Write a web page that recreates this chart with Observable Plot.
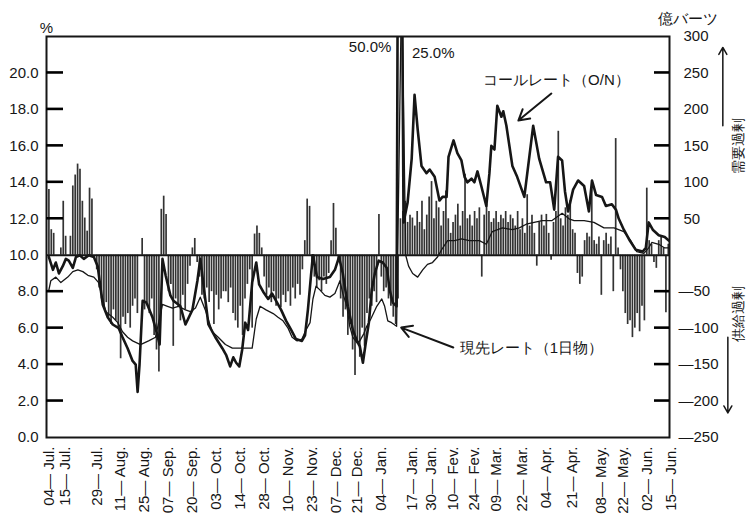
<!DOCTYPE html>
<html><head><meta charset="utf-8">
<script src="https://cdn.jsdelivr.net/npm/d3@7"></script>
<script src="https://cdn.jsdelivr.net/npm/@observablehq/plot@0.6"></script>
<style>
body{margin:0;background:#fff;}
#chart{width:747px;height:516px;}
</style></head><body><div id="chart"></div>
<script>
// business-day index of each labelled date
const tickDays = [0, 7, 20, 30, 40, 50, 60, 70, 80, 90, 100, 110, 120, 129, 139, 152, 160, 169, 178, 187, 198, 208, 219, 231, 240, 250, 260];
const tickLabels = ["04— Jul.", "15— Jul.", "29— Jul.", "11— Aug.", "25— Aug.", "07— Sep.", "20— Sep.", "03— Oct.", "14— Oct.", "28— Oct.", "10— Nov.", "23— Nov.", "07— Dec.", "21— Dec.", "04— Jan.", "17— Jan.", "30— Jan.", "10— Fev.", "24— Fev.", "09— Mar.", "22— Mar.", "04— Apr.", "21— Apr.", "08— May.", "22— May.", "02— Jun.", "15— Jun."];

// daily excess demand (+) / supply (-) of funds, 億バーツ, one value per business day
const fundBalance = [
  90, 35, 30, 0, 0, 10, 74, 26, 0, 26,
  95, 110, 125, 118, 74, 51, 33, 92, 77, 0,
  -20, -45, -60, -70, -65, -85, -95, -75, -90, -100,
  -142, -85, -95, -80, -100, -70, -60, -80, 0, 23,
  -75, -65, -80, -60, -110, -130, -160, 63, 81, 56,
  -50, -40, -125, -60, -70, -90, -55, -75, -40, -15,
  10, 23, -10, -30, -55, -60, -45, -65, -50, -95,
  -55, -75, -60, -50, -50, -65, -45, -80, -90, -100,
  -70, -110, -60, -40, -20, -100, 29, 40, 30, 10,
  -30, -55, -45, -65, -50, -70, -60, -72, -55, -65,
  -50, -70, -45, -60, -40, -55, -20, 20, 77, 67,
  -10, -30, -45, -35, -50, -30, -40, -25, 20, 71,
  37, -10, -60, -85, -75, -110, -95, -130, -165, -120,
  -140, -100, -125, -80, -60, -70, -50, -65, 56, -30,
  -50, -45, -60, -70, -85, -95, -60, 50, 60, 74,
  45, 55, 51, 40, 60, 45, 74, 35, 55, 80,
  101, 50, 74, 65, 40, 60, 88, 50, 30, 45,
  55, 70, 40, 60, 111, 50, 55, 40, 60, 50,
  65, -30, 55, 70, 60, 45, 50, 60, 45, 55,
  50, 60, 45, 55, 50, 40, 60, 35, 50, 30,
  83, 40, 55, 30, -15, 45, 55, 40, 56, 30,
  -7, 45, 60, 170, 50, 40, 65, 55, 75, 35,
  30, -25, -40, -30, 20, 30, 25, 92, 20, 15,
  25, -55, 20, 30, 15, 25, -50, 160, 10, -20,
  -50, -80, -95, -90, -113, -100, -80, -105, -70, -90,
  92, 20, 15, -10, -18, 20, 25, 10, -79, 15
];

// call rate (O/N), % : [business-day index, rate]
const callRate = [
  [0,9.9],[1.7,9.2],[2.9,9.6],[4.2,9.0],[5.8,9.4],[7.1,9.8],[8.3,9.7],[10,9.3],[11.3,9.9],[12.9,10.0],
  [14.6,9.8],[16.7,10.0],[18.8,9.9],[20.4,9.4],[22.5,7.3],[24.6,6.6],[26.7,6.2],[29.2,6.0],[30.8,5.5],[32.9,4.9],
  [35,4.2],[36.3,4.0],[37.1,2.5],[37.9,4.0],[39.2,7.5],[40.8,7.4],[43.3,6.6],[45.4,5.6],[46.3,5.1],[47.5,9.8],
  [48.8,8.9],[50.8,7.8],[52.1,7.5],[55,7.2],[57.1,6.2],[60,7.0],[62.1,8.6],[63.3,9.8],[65,8.0],[66.7,6.2],
  [69.6,5.5],[72.5,4.9],[74.2,4.5],[75.8,3.9],[77.1,4.4],[78.3,4.1],[79.6,3.9],[80.8,4.8],[82.1,6.3],[83.3,5.9],
  [85,8.5],[86.7,9.6],[87.9,8.4],[89.6,8.0],[91.7,7.6],[93.3,7.9],[95,7.5],[97.1,7.0],[99.2,6.4],[101.3,5.9],
  [103.3,5.4],[105.8,5.3],[107.1,5.6],[108.3,7.0],[109.6,8.9],[110.4,10.0],[112.1,8.8],[114.6,8.7],[117.5,8.8],[119.6,9.2],
  [121.3,9.9],[122.9,9.0],[125,7.2],[127.1,5.9],[128.8,5.3],[130,5.0],[131.3,4.1],[132.5,5.2],[133.8,6.3],[135,8.1],
  [136.3,9.0],[137.9,9.7],[139.6,9.6],[141.3,9.3],[142.5,8.1],[143.8,7.4],[145.4,7.2],[146.5,50],[148.3,11.8],[150,12.9],
  [151.7,15.3],[152.9,18.8],[154.2,16.9],[155.8,14.9],[157.9,14.5],[159.2,14.7],[161.3,14.3],[163.3,13.0],[164.6,13.2],[166.3,13.2],
  [167.1,15.4],[169.2,16.3],[170.8,15.6],[172.5,15.2],[173.8,14.3],[175,14.0],[176.7,14.2],[177.9,14.0],[179.2,14.6],[180.8,13.8],
  [182.9,12.7],[184.2,14.5],[185,16.0],[186.3,15.8],[187.5,18.2],[189.2,17.6],[190,17.9],[191.3,17.1],[193.8,14.9],[195.8,14.3],
  [198.8,13.2],[202.5,17.1],[205,15.3],[207.9,14.0],[209.6,14.0],[211.3,12.5],[212.9,15.4],[214.6,15.2],[215.8,13.5],[217.1,12.4],
  [219.2,13.6],[221.3,14.1],[223.8,13.8],[225.8,12.4],[227.1,14.1],[228.8,13.3],[231.3,13.2],[232.9,12.7],[235.4,12.8],[237.1,12.5],
  [238.3,12.0],[240.4,11.4],[242.9,10.8],[245.4,10.3],[248.3,10.2],[249.6,10.4],[250.8,11.8],[252.5,11.4],[255,11.1],[257.5,11.0],
  [259.2,10.8]
];

// repo rate (1 day), % : [business-day index, rate]
const repoRate = [
  [0,8.1],[0.8,8.6],[2.9,8.8],[5,8.5],[7.9,8.8],[10,9.1],[12.1,9.2],[14.2,9.1],[16.3,8.9],[18.8,8.8],
  [20.8,8.5],[23.8,6.9],[26.7,6.6],[28.8,6.3],[30.8,5.8],[32.9,5.5],[35,5.3],[38.3,5.1],[41.7,5.3],[44.6,5.5],
  [47.5,7.3],[49.6,7.2],[51.7,7.1],[54.2,7.2],[57.1,7.0],[59.2,6.9],[61.3,7.1],[63.3,7.7],[65.4,7.0],[68.3,5.8],
  [70.8,5.5],[73.8,5.1],[76.7,4.9],[79.2,4.9],[82.1,4.9],[85,4.9],[86.7,6.5],[88.3,7.2],[90.8,7.0],[93.8,6.8],
  [95.8,6.6],[97.9,6.4],[100,6.0],[101.7,5.5],[103.8,5.3],[105.8,5.4],[107.5,5.9],[109.2,6.3],[110.4,7.6],[111.7,8.3],
  [113.3,8.1],[115.4,7.8],[117.5,7.7],[119.6,7.9],[121.7,8.6],[122.9,7.9],[124.6,7.2],[125.8,6.1],[127.1,5.5],[128.8,5.2],
  [130,5.3],[131.7,5.7],[132.9,6.1],[134.6,6.5],[137.1,7.2],[139.2,7.6],[140.4,7.2],[141.7,6.4],[143.3,6.3],[145.4,6.1],
  [147.5,25],[149.2,10.0],[150.4,9.4],[152.1,9.0],[154.2,8.8],[156.3,9.2],[158.3,9.5],[160.4,9.6],[162.5,9.9],[164.2,10.3],
  [166.7,10.8],[169.6,10.8],[172.5,10.9],[175.8,10.8],[180,10.8],[182.9,10.6],[185.4,11.3],[189.6,11.5],[193.8,11.4],[196.7,11.5],
  [199.6,11.7],[202.9,11.8],[206.3,11.9],[210.4,11.9],[214.6,12.3],[217.5,12.0],[219.6,11.9],[223.8,11.9],[227.9,11.8],[232.1,11.5],
  [236.3,11.5],[240.4,11.3],[243.3,10.8],[245.8,10.2],[248.8,10.1],[250.8,10.4],[252.1,10.7],[255,10.6],[257.5,10.4],[259.2,10.4]
];

const leftTicks = [0, 2, 4, 6, 8, 10, 12, 14, 16, 18, 20];
const rightTicks = [300, 250, 200, 150, 100, 50, -50, -100, -150, -200, -250];

// annotations (text, x index, y %)
const notes = [
  {text: "50.0%", x: 134.3, y: 21.4},
  {text: "25.0%", x: 160.7, y: 21.1},
  {text: "コールレート（O/N）", x: 212.2, y: 19.6},
  {text: "現先レート（1日物）", x: 201.8, y: 4.9}
];
const pointers = [
  {x1: 210.1, y1: 18.87, x2: 196.3, y2: 17.39},
  {x1: 169.1, y1: 4.94, x2: 147.3, y2: 6.03}
];
const sideArrows = [
  {x1: 281.8, y1: 17.1, x2: 281.8, y2: 21.4},
  {x1: 283.9, y1: 5.5, x2: 283.9, y2: 1.35}
];
const sideLabels = [
  {text: "需要過剰", x: 288.5, y: 16.0},
  {text: "供給過剰", x: 288.5, y: 6.8}
];

const xDomain = [-1, 259.5];
const toPct = v => 10 + v / 25;           // 億バーツ -> position on the % scale (0 at 10%)
const bars = fundBalance.map((v, i) => ({i, v}));
const tickLabelOf = new Map(tickDays.map((d, k) => [d, tickLabels[k]]));
const ink = "#161616";
const font = "'Liberation Sans', Arial, sans-serif";
const W = 747, ML = 46, MR = 78;

const chart = Plot.plot({
  width: W, height: 516,
  marginTop: 36, marginBottom: 79, marginLeft: ML, marginRight: MR,
  style: {fontFamily: font, fontSize: "15px", color: ink, background: "#fff", overflow: "visible"},
  x: {domain: xDomain, axis: null},
  y: {domain: [0, 22], axis: null},
  marks: [
    Plot.ruleX(bars, {x: "i", y1: 10, y2: d => toPct(d.v), stroke: "#333", strokeWidth: 1.7}),
    Plot.ruleY([10], {stroke: ink, strokeWidth: 2}),
    Plot.line(repoRate, {x: d => d[0], y: d => d[1], stroke: ink, strokeWidth: 1.3, clip: true}),
    Plot.line(callRate, {x: d => d[0], y: d => d[1], stroke: ink, strokeWidth: 2.6, clip: true}),
    Plot.frame({stroke: ink, strokeWidth: 2}),
    Plot.axisY({anchor: "left", ticks: leftTicks, tickSize: 0, tickPadding: 8, tickFormat: d => d.toFixed(1), fontSize: 15, label: null}),
    Plot.axisY({anchor: "right", ticks: rightTicks.filter(v => v > 0).map(toPct), tickSize: 0, tickPadding: 14, tickFormat: d => String(Math.round((d - 10) * 25)), fontSize: 15, label: null}),
    Plot.axisY({anchor: "right", ticks: rightTicks.filter(v => v < 0).map(toPct), tickSize: 0, tickPadding: 9, tickFormat: d => "—" + Math.round((10 - d) * 25), fontSize: 15, label: null}),
    // x axis
    Plot.axisX({ticks: tickDays, tickFormat: d => tickLabelOf.get(d), tickRotate: -90, tickSize: 0, tickPadding: 9, fontSize: 15, label: null}),
    // annotations
    Plot.text(notes, {x: "x", y: "y", text: "text", fontSize: 15, fill: ink}),
    Plot.arrow(pointers, {x1: "x1", y1: "y1", x2: "x2", y2: "y2", stroke: ink, strokeWidth: 2, headLength: 9}),
    Plot.arrow(sideArrows, {x1: "x1", y1: "y1", x2: "x2", y2: "y2", stroke: ink, strokeWidth: 1.5, headLength: 8}),
    Plot.text(sideLabels, {x: "x", y: "y", text: "text", rotate: -90, fontSize: 14, fill: ink}),
    Plot.text(["%"], {frameAnchor: "top-left", dy: -14, dx: 0, textAnchor: "middle", fontSize: 15, fill: ink}),
    Plot.text(["億バーツ"], {frameAnchor: "top-right", dy: -23, dx: 18, textAnchor: "middle", fontSize: 15, fill: ink})
  ]
});

// inward tick marks on both vertical axes, positioned with the chart's own y scale
const yScale = chart.scale("y");
const svg = d3.select(chart.tagName.toLowerCase() === "svg" ? chart : chart.querySelector("svg"));
const tickG = svg.append("g").attr("stroke", "#000").attr("stroke-width", 2.6);
tickG.selectAll("line.l").data(leftTicks.filter(t => t > 0 && t !== 10)).join("line")
  .attr("class", "l").attr("x1", ML).attr("x2", ML + 17)
  .attr("y1", d => yScale.apply(d)).attr("y2", d => yScale.apply(d));
tickG.selectAll("line.r").data(rightTicks.filter(v => v > -250 && v < 300)).join("line")
  .attr("class", "r").attr("x1", W - MR - 15).attr("x2", W - MR)
  .attr("y1", d => yScale.apply(toPct(d))).attr("y2", d => yScale.apply(toPct(d)));

document.getElementById("chart").appendChild(chart);
</script>
</body></html>
